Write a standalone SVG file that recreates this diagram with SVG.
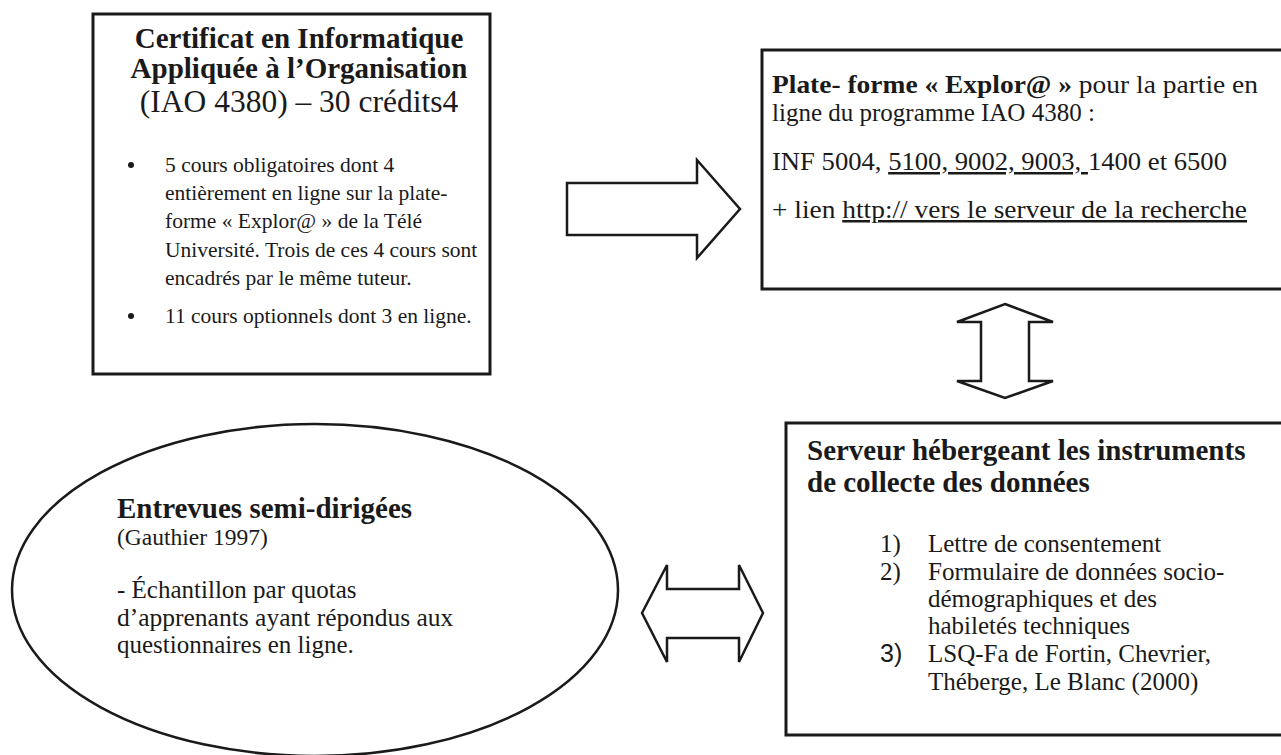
<svg xmlns="http://www.w3.org/2000/svg" width="1281" height="755" viewBox="0 0 1281 755">
<style>
.box{fill:#fff;stroke:#1a1a1a;stroke-width:3}
.arr{fill:#fff;stroke:#1a1a1a;stroke-width:2.5;stroke-linejoin:miter}
text{font-family:"Liberation Serif","Times New Roman",serif;fill:#1a1a1a}
.b{font-weight:bold}
.t{font-size:29px;font-weight:bold}
.s{font-size:21.5px}
.p{font-size:25px}
.m{font-size:25px}
.u{text-decoration:underline}
</style>
<rect width="1281" height="755" fill="#fff"/>
<g id="connectors">
<polygon class="arr" points="567,183 697,183 697,160 740,209 697,258 697,235 567,235"/>
<polygon class="arr" points="1005,304 1053,322 1029,322 1029,381 1053,381 1005,398 957,381 981,381 981,322 957,322"/>
<polygon class="arr" points="642,613 667,565 667,589 739,589 739,565 763,613 739,662 739,638 667,638 667,662"/>
</g>
<g id="certificat">
<rect class="box" x="93" y="14" width="397" height="360"/>
<text class="t" x="299" y="48" text-anchor="middle">Certificat en Informatique</text>
<text class="t" x="299" y="78" text-anchor="middle">Appliquée à l’Organisation</text>
<text x="299" y="112" text-anchor="middle" font-size="31.5">(IAO 4380) – 30 crédits4</text>
<circle cx="131" cy="165" r="3" fill="#1a1a1a"/>
<text class="s" x="165" y="172">5 cours obligatoires dont 4</text>
<text class="s" x="165" y="200">entièrement en ligne sur la plate-</text>
<text class="s" x="165" y="228">forme « Explor@ » de la Télé</text>
<text class="s" x="165" y="257">Université. Trois de ces 4 cours sont</text>
<text class="s" x="165" y="285">encadrés par le même tuteur.</text>
<circle cx="131" cy="316" r="3" fill="#1a1a1a"/>
<text class="s" x="165" y="323">11 cours optionnels dont 3 en ligne.</text>
</g>
<g id="plateforme">
<rect class="box" x="762" y="50" width="540" height="239"/>
<text class="p" x="772" y="93" textLength="486" lengthAdjust="spacingAndGlyphs"><tspan class="b">Plate- forme « Explor@ »</tspan> pour la partie en</text>
<text class="p" x="772" y="121">ligne du programme IAO 4380 :</text>
<text class="p" x="772" y="170" textLength="455" lengthAdjust="spacingAndGlyphs">INF 5004, <tspan class="u">5100, 9002, 9003, </tspan>1400 et 6500</text>
<text class="p" x="772" y="218" textLength="475" lengthAdjust="spacingAndGlyphs">+ lien <tspan class="u">http:// vers le serveur de la recherche</tspan></text>
</g>
<g id="serveur">
<rect class="box" x="786" y="423" width="520" height="312"/>
<text class="t" x="807" y="460">Serveur hébergeant les instruments</text>
<text class="t" x="807" y="492">de collecte des données</text>
<text class="m" x="880" y="552">1)</text><text class="m" x="928" y="552">Lettre de consentement</text>
<text class="m" x="880" y="580">2)</text><text class="m" x="928" y="580">Formulaire de données socio-</text>
<text class="m" x="928" y="607">démographiques et des</text>
<text class="m" x="928" y="634">habiletés techniques</text>
<text class="m" x="880" y="662" style="font-family:'Liberation Sans',Arial,sans-serif">3)</text><text class="m" x="928" y="662">LSQ-Fa de Fortin, Chevrier,</text>
<text class="m" x="928" y="690">Théberge, Le Blanc (2000)</text>
</g>
<g id="entrevues">
<ellipse cx="315" cy="590" rx="303" ry="166" fill="#fff" stroke="#1a1a1a" stroke-width="2.5"/>
<text class="t" x="117" y="518">Entrevues semi-dirigées</text>
<text x="117" y="545" font-size="23.5">(Gauthier 1997)</text>
<text class="m" x="117" y="598">- Échantillon par quotas</text>
<text x="117" y="626" font-size="25.5">d’apprenants ayant répondus aux</text>
<text class="m" x="117" y="653">questionnaires en ligne.</text>
</g>
</svg>
